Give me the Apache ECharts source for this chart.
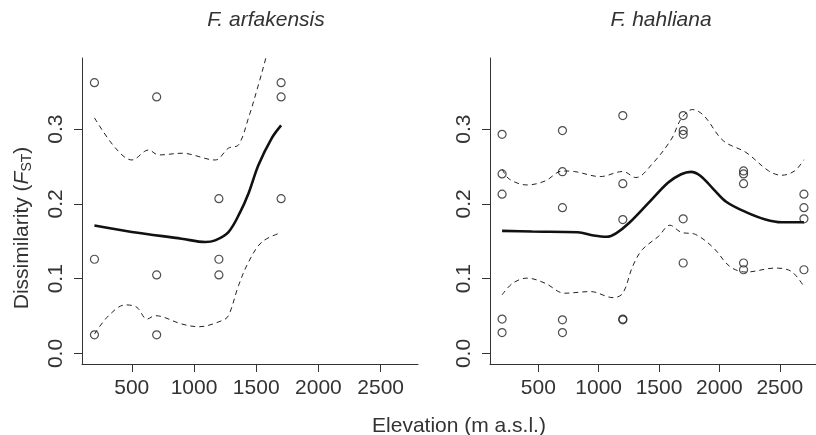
<!DOCTYPE html>
<html>
<head>
<meta charset="utf-8">
<script src="https://cdn.jsdelivr.net/npm/echarts@6/dist/echarts.min.js"></script>
<style>
  html, body { margin: 0; padding: 0; background: #fff; }
  #main { width: 816px; height: 435px; }
</style>
</head>
<body>
<div id="main"></div>
<script>
// tick labels
let xTicks = [500, 1000, 1500, 2000, 2500]
let yTicks = [0, 0.1, 0.2, 0.3]

// F. arfakensis - observed pairs
let arfElev = [200, 200, 200, 700, 700, 700, 1200, 1200, 1200, 1700, 1700, 1700]
let arfFst = [0.362, 0.126, 0.025, 0.343, 0.105, 0.025, 0.207, 0.126, 0.105, 0.362, 0.343, 0.207]
// fitted curve + bands
let arfFitX = [200, 500, 900, 1090, 1170, 1277, 1371, 1440, 1518, 1625, 1700]
let arfFitY = [0.171, 0.1625, 0.1535, 0.149, 0.1513, 0.1624, 0.189, 0.215, 0.252, 0.288, 0.305]
let arfUpX = [200, 367, 501, 635, 716, 903, 1170, 1277, 1358, 1438, 1518, 1585, 1650, 1700]
let arfUpY = [0.315, 0.275, 0.2587, 0.272, 0.2654, 0.2677, 0.2587, 0.2745, 0.279, 0.315, 0.3593, 0.3996, 0.44, 0.47]
let arfLoX = [200, 314, 448, 541, 622, 688, 903, 1037, 1224, 1277, 1358, 1438, 1545, 1700]
let arfLoY = [0.026, 0.0506, 0.065, 0.0617, 0.046, 0.0506, 0.0394, 0.0358, 0.0439, 0.0506, 0.0909, 0.1222, 0.149, 0.1616]

// F. hahliana - observed pairs
let hahElev = [200, 200, 200, 200, 200, 700, 700, 700, 700, 700, 1200, 1200, 1200, 1200, 1200,
  1700, 1700, 1700, 1700, 1700, 2200, 2200, 2200, 2200, 2200, 2700, 2700, 2700, 2700]
let hahFst = [0.293, 0.240, 0.213, 0.046, 0.028, 0.298, 0.243, 0.195, 0.045, 0.028, 0.318, 0.227, 0.179, 0.046, 0.045,
  0.318, 0.298, 0.293, 0.180, 0.121, 0.244, 0.240, 0.227, 0.121, 0.112, 0.213, 0.195, 0.180, 0.112]
let hahFitX = [200, 449, 825, 959, 1066, 1147, 1254, 1415, 1576, 1683, 1763, 1844, 1952, 2059, 2220, 2381, 2515, 2700]
let hahFitY = [0.164, 0.163, 0.162, 0.1577, 0.156, 0.161, 0.1747, 0.2016, 0.2285, 0.2396, 0.2428, 0.2374, 0.2195, 0.2025, 0.189, 0.1792, 0.1755, 0.1755]
let hahUpX = [200, 261, 408, 556, 700, 798, 1012, 1200, 1308, 1442, 1603, 1683, 1777, 1871, 2032, 2220, 2408, 2515, 2623, 2700]
let hahUpY = [0.2464, 0.233, 0.2253, 0.2306, 0.244, 0.2433, 0.2365, 0.2433, 0.2352, 0.2531, 0.2867, 0.3136, 0.3261, 0.318, 0.2844, 0.2688, 0.2441, 0.2383, 0.2441, 0.2590]
let hahLoX = [200, 288, 408, 556, 718, 932, 1120, 1200, 1281, 1361, 1496, 1590, 1683, 1804, 1952, 2086, 2220, 2462, 2596, 2700]
let hahLoY = [0.0784, 0.094, 0.1008, 0.094, 0.0806, 0.0828, 0.0747, 0.0806, 0.1164, 0.1388, 0.1567, 0.1715, 0.1621, 0.159, 0.1411, 0.1164, 0.1089, 0.1142, 0.1097, 0.0895]

function pairs (xs, ys) {
  return xs.map(function (x, i) { return [x, ys[i]] })
}

let ink = '#222'
let font = 'Liberation Sans, Arial, sans-serif'

function xAxisCfg (idx) {
  return {
    type: 'value',
    gridIndex: idx,
    min: 100,
    max: 2800,
    axisLine: { show: true, onZero: false, lineStyle: { color: '#333', width: 1 } },
    axisTick: { show: true, length: 8, customValues: xTicks, lineStyle: { color: '#333' } },
    axisLabel: {
      customValues: xTicks,
      margin: 14,
      color: '#333',
      fontSize: 21,
      fontFamily: font,
      formatter: function (v) { return String(v) }
    },
    splitLine: { show: false }
  }
}

function yAxisCfg (idx) {
  return {
    type: 'value',
    gridIndex: idx,
    min: -0.014,
    max: 0.395,
    axisLine: { show: true, onZero: false, lineStyle: { color: '#333', width: 1 } },
    axisTick: { show: true, length: 8, customValues: yTicks, lineStyle: { color: '#333' } },
    axisLabel: {
      customValues: yTicks,
      rotate: 90,
      margin: 15,
      color: '#333',
      fontSize: 21,
      fontFamily: font,
      formatter: function (v) { return v.toFixed(1) }
    },
    splitLine: { show: false }
  }
}

function pointSeries (idx, xs, ys) {
  return {
    type: 'scatter',
    xAxisIndex: idx,
    yAxisIndex: idx,
    symbol: 'circle',
    symbolSize: 8,
    itemStyle: { color: 'transparent', borderColor: ink, borderWidth: 1.2 },
    data: pairs(xs, ys),
    z: 3
  }
}

function lineSeries (idx, xs, ys, dashed) {
  return {
    type: 'line',
    xAxisIndex: idx,
    yAxisIndex: idx,
    symbol: 'none',
    smooth: 0.35,
    clip: true,
    lineStyle: dashed ? { color: ink, width: 1, type: [5, 4] } : { color: '#111', width: 2.6 },
    data: pairs(xs, ys),
    z: 2
  }
}

let myChart = echarts.init(document.getElementById('main'))
myChart.setOption({
  animation: false,
  backgroundColor: '#fff',
  grid: [
    { left: 82, top: 58, width: 336, height: 306 },
    { left: 490, top: 58, width: 336, height: 306 }
  ],
  xAxis: [xAxisCfg(0), xAxisCfg(1)],
  yAxis: [yAxisCfg(0), yAxisCfg(1)],
  graphic: [
    {
      type: 'text', x: 266, y: 20,
      style: { text: 'F. arfakensis', fontSize: 21, fontStyle: 'italic', fontFamily: font, fill: '#333', align: 'center', verticalAlign: 'middle' }
    },
    {
      type: 'text', x: 661, y: 20,
      style: { text: 'F. hahliana', fontSize: 21, fontStyle: 'italic', fontFamily: font, fill: '#333', align: 'center', verticalAlign: 'middle' }
    },
    {
      type: 'text', x: 459, y: 426,
      style: { text: 'Elevation (m a.s.l.)', fontSize: 21, fontFamily: font, fill: '#333', align: 'center', verticalAlign: 'middle' }
    },
    {
      type: 'text', x: 22, y: 228, rotation: Math.PI / 2,
      style: {
        text: '{a|Dissimilarity (}{f|F}{s|ST}{a|)}',
        align: 'center',
        verticalAlign: 'middle',
        fill: '#333',
        rich: {
          a: { fontSize: 21, fontFamily: font, fill: '#333', lineHeight: 24 },
          f: { fontSize: 21, fontFamily: font, fontStyle: 'italic', fill: '#333', lineHeight: 24 },
          s: { fontSize: 14, fontFamily: font, fill: '#333', lineHeight: 10, verticalAlign: 'bottom' }
        }
      }
    }
  ],
  series: [
    pointSeries(0, arfElev, arfFst),
    lineSeries(0, arfFitX, arfFitY, false),
    lineSeries(0, arfUpX, arfUpY, true),
    lineSeries(0, arfLoX, arfLoY, true),
    pointSeries(1, hahElev, hahFst),
    lineSeries(1, hahFitX, hahFitY, false),
    lineSeries(1, hahUpX, hahUpY, true),
    lineSeries(1, hahLoX, hahLoY, true)
  ]
})
</script>
</body>
</html>
